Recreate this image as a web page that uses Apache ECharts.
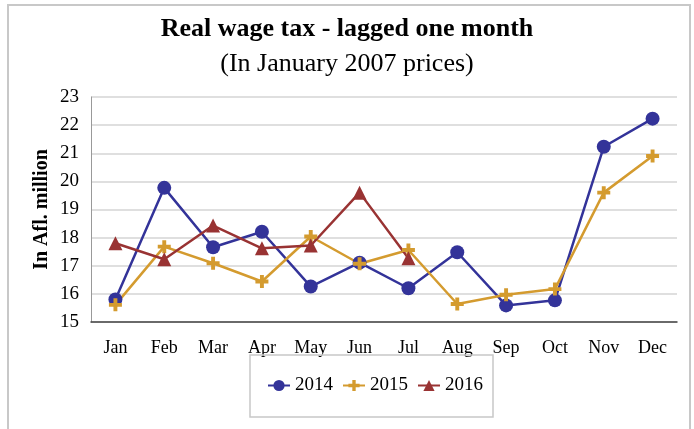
<!DOCTYPE html>
<html>
<head>
<meta charset="utf-8">
<script src="https://cdn.jsdelivr.net/npm/echarts@6/dist/echarts.min.js"></script>
<style>
  html, body { margin: 0; padding: 0; background: #fff; }
  #chart { width: 694px; height: 429px; }
</style>
</head>
<body>
<div id="chart"></div>
<script>
// months on the x axis
var months = ['Jan', 'Feb', 'Mar', 'Apr', 'May', 'Jun', 'Jul', 'Aug', 'Sep', 'Oct', 'Nov', 'Dec'];
// real wage tax, Afl. million
var tax2014 = [15.8, 19.77, 17.66, 18.21, 16.26, 17.11, 16.2, 17.48, 15.59, 15.77, 21.23, 22.23];
var tax2015 = [15.61, 17.68, 17.09, 16.44, 18.04, 17.07, 17.56, 15.64, 15.97, 16.17, 19.6, 20.9];
var tax2016 = [17.8, 17.23, 18.43, 17.62, 17.72, 19.6, 17.27, null, null, null, null, null];

var plusIcon = 'path://M3.5,0H6.5V3.5H10V6.5H6.5V10H3.5V6.5H0V3.5H3.5Z';
var font = '"Liberation Serif", "Times New Roman", serif';

var chart = echarts.init(document.getElementById('chart'));
var option = {
    backgroundColor: '#fff',
    graphic: [{
        type: 'rect',
        shape: { x: 8, y: 5, width: 682, height: 430 },
        style: { fill: 'none', stroke: '#c8c8c8', lineWidth: 2 },
        silent: true
    }],
    title: [{
        text: 'Real wage tax - lagged one month',
        left: 'center',
        top: 11,
        textStyle: { fontFamily: font, fontSize: 26, fontWeight: 'bold', color: '#000' }
    }, {
        text: '(In January 2007 prices)',
        left: 'center',
        top: 46,
        textStyle: { fontFamily: font, fontSize: 26, fontWeight: 'normal', color: '#000' }
    }],
    legend: {
        left: 250,
        top: 355,
        padding: [21, 10, 22, 17],
        borderColor: '#c8c8c8',
        borderWidth: 1.5,
        itemWidth: 22,
        itemHeight: 14,
        itemGap: 9,
        textStyle: { fontFamily: font, fontSize: 19, color: '#000' },
        data: ['2014', '2015', '2016']
    },
    grid: { left: 91, right: 17, top: 97, bottom: 107 },
    xAxis: {
        type: 'category',
        data: months,
        boundaryGap: true,
        axisLine: { lineStyle: { color: '#444', width: 1.5 } },
        axisTick: { show: false },
        axisLabel: { fontFamily: font, fontSize: 18, color: '#000', margin: 17 }
    },
    yAxis: {
        type: 'value',
        min: 15,
        max: 23,
        interval: 1,
        name: 'In Afl. million',
        nameLocation: 'middle',
        nameGap: 39,
        nameRotate: 90,
        nameMoveOverlap: false,
        nameTextStyle: { fontFamily: font, fontSize: 20, fontWeight: 'bold', color: '#000' },
        axisLine: { show: true, lineStyle: { color: '#999' } },
        axisTick: { show: false },
        axisLabel: { fontFamily: font, fontSize: 19, color: '#000', margin: 12 },
        splitLine: { lineStyle: { color: '#d4d4d4', width: 1.5 } }
    },
    series: [{
        name: '2014',
        type: 'line',
        data: tax2014,
        symbol: 'circle',
        symbolSize: 14,
        color: '#333399',
        lineStyle: { width: 2.5 }
    }, {
        name: '2015',
        type: 'line',
        data: tax2015,
        symbol: plusIcon,
        symbolSize: 13,
        color: '#d49b2f',
        lineStyle: { width: 2.5 }
    }, {
        name: '2016',
        type: 'line',
        data: tax2016,
        symbol: 'triangle',
        symbolSize: 14,
        color: '#993333',
        lineStyle: { width: 2.5 }
    }]
};
chart.setOption(option);
</script>
</body>
</html>
